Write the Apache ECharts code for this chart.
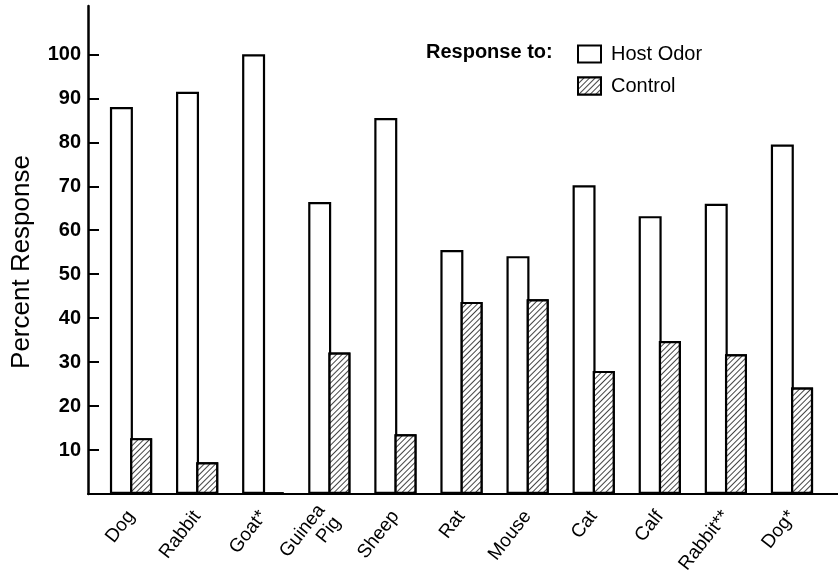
<!DOCTYPE html>
<html>
<head>
<meta charset="utf-8">
<script src="https://cdn.jsdelivr.net/npm/echarts@6/dist/echarts.min.js"></script>
<style>html,body{margin:0;padding:0;background:#fff}#c{width:838px;height:574px}</style>
</head>
<body>
<div id="c"></div>
<script>
const categories = ['Dog', 'Rabbit', 'Goat*', 'Guinea\nPig', 'Sheep', 'Rat', 'Mouse', 'Cat', 'Calf', 'Rabbit**', 'Dog*'];
const hostOdor = [88, 91.5, 100, 66.4, 85.5, 55.5, 54.1, 70.2, 63.2, 66, 79.5];
const control = [12.7, 7.2, 0.3, 32.2, 13.6, 43.7, 44.3, 28, 34.8, 31.8, 24.2];
const yTicks = [10, 20, 30, 40, 50, 60, 70, 80, 90, 100];
const yMax = 111;

const FONT = 'Liberation Sans, Arial, Helvetica, sans-serif';
const chart = echarts.init(document.getElementById('c'), null, {renderer: 'canvas'});
const hatch = {
  symbol: 'rect',
  color: '#444',
  backgroundColor: '#fff',
  dashArrayX: [1, 0],
  dashArrayY: [1, 2.6],
  rotation: -Math.PI / 4
};
chart.setOption({
  backgroundColor: '#fff',
  animation: false,
  textStyle: {fontFamily: FONT, color: '#000'},
  title: {
    text: 'Response to:',
    left: 421, top: 37,
    textStyle: {fontFamily: FONT, fontSize: 20, fontWeight: 'bold', color: '#000'}
  },
  legend: {
    data: ['Host Odor', 'Control'],
    orient: 'vertical',
    left: 572, top: 39,
    itemWidth: 23, itemHeight: 17, itemGap: 12,
    icon: 'rect',
    textStyle: {fontFamily: FONT, fontSize: 20, color: '#000', padding: [0, 0, 0, 5]}
  },
  graphic: [{
    type: 'text',
    x: 22, y: 262, rotation: Math.PI / 2,
    style: {text: 'Percent Response', fontFamily: FONT, fontSize: 26, fill: '#000', align: 'center', verticalAlign: 'middle'}
  }],
  grid: [
    {left: 98, right: 13, top: 6, bottom: 80, containLabel: false, outerBoundsMode: 'none'},
    {left: 88, right: 0, top: 6, bottom: 80, containLabel: false, outerBoundsMode: 'none'}
  ],
  xAxis: [
    {
      type: 'category', gridIndex: 0, data: categories,
      axisLine: {show: false}, axisTick: {show: false},
      axisLabel: {rotate: 52, margin: 19, fontSize: 19, color: '#000', fontFamily: FONT, interval: 0, lineHeight: 20}
    },
    {
      type: 'value', gridIndex: 1, min: 0, max: 1,
      axisLine: {show: true, lineStyle: {color: '#000', width: 2}},
      axisTick: {show: false}, axisLabel: {show: false}, splitLine: {show: false}
    }
  ],
  yAxis: [
    {type: 'value', gridIndex: 0, min: 0, max: yMax, show: false},
    {
      type: 'value', gridIndex: 1, min: 0, max: yMax,
      axisLine: {show: true, lineStyle: {color: '#000', width: 2.5}},
      axisTick: {show: true, inside: true, length: 11, lineStyle: {color: '#000', width: 2}, customValues: yTicks},
      axisLabel: {fontFamily: FONT, fontSize: 20, fontWeight: 'bold', color: '#000', margin: 7, customValues: yTicks},
      splitLine: {show: false}
    }
  ],
  series: [
    {
      name: 'Host Odor', type: 'bar', xAxisIndex: 0, yAxisIndex: 0,
      data: hostOdor, barWidth: 23, barGap: '-12%',
      itemStyle: {color: '#fff', borderColor: '#000', borderWidth: 2.2}
    },
    {
      name: 'Control', type: 'bar', xAxisIndex: 0, yAxisIndex: 0,
      data: control, barWidth: 22,
      itemStyle: {color: '#fff', borderColor: '#000', borderWidth: 2.2, decal: hatch}
    }
  ]
});
</script>
</body>
</html>
